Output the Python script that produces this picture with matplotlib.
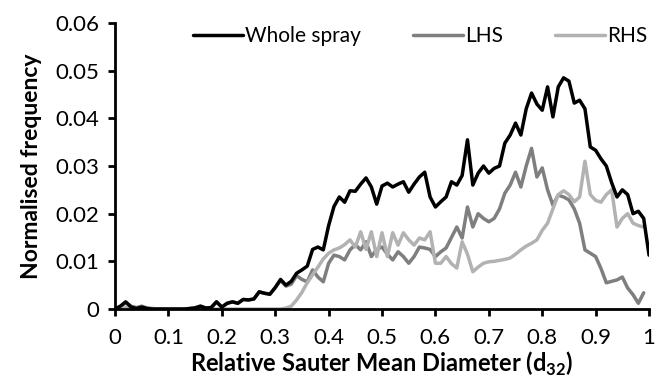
import numpy as np
from matplotlib import pyplot as plt

# relative d32 bins
d32 = np.round(np.arange(0, 1.001, 0.01), 2)

whole_spray = [
    0.0, 0.0006, 0.0015, 0.0004, 0.0001, 0.0004, 0.0001, 0.0, 0.0, 0.0,
    0.0, 0.0, 0.0, 0.0, 0.0001, 0.0002, 0.0006, 0.0002, 0.0003, 0.0015,
    0.0004, 0.0012, 0.0015, 0.0012, 0.002, 0.0019, 0.0021, 0.0036, 0.0033, 0.0031,
    0.0045, 0.0062, 0.0050, 0.0058, 0.0075, 0.0082, 0.009, 0.0125, 0.013, 0.0124,
    0.0175, 0.0215, 0.0235, 0.0224, 0.0248, 0.0247, 0.0262, 0.0275, 0.0256, 0.022,
    0.0258, 0.0264, 0.0256, 0.0262, 0.0267, 0.0245, 0.0262, 0.0277, 0.0287, 0.0235,
    0.0214, 0.0225, 0.0235, 0.0267, 0.026, 0.028, 0.0355, 0.026, 0.0285, 0.030,
    0.0285, 0.0295, 0.030, 0.0348, 0.0365, 0.039, 0.0365, 0.042, 0.0453, 0.043,
    0.0417, 0.0466, 0.0403, 0.0466, 0.0485, 0.0478, 0.0432, 0.0438, 0.042, 0.034,
    0.0333, 0.0315, 0.030, 0.0265, 0.0235, 0.025, 0.024, 0.020, 0.0205, 0.019,
    0.0113,
]

lhs = [
    0.0, 0.0004, 0.0014, 0.0006, 0.0003, 0.0006, 0.0002, 0.0001, 0.0, 0.0,
    0.0, 0.0, 0.0, 0.0, 0.0001, 0.0003, 0.0006, 0.0002, 0.0003, 0.0015,
    0.0004, 0.0012, 0.0015, 0.0012, 0.002, 0.0019, 0.0021, 0.0036, 0.0033, 0.0031,
    0.0045, 0.006, 0.0048, 0.0052, 0.007, 0.0062, 0.0057, 0.0082, 0.0067, 0.0057,
    0.0096, 0.0113, 0.011, 0.0103, 0.0124, 0.0135, 0.0124, 0.0141, 0.011, 0.0125,
    0.013, 0.0115, 0.0103, 0.012, 0.011, 0.0096, 0.011, 0.013, 0.0128, 0.0125,
    0.011, 0.012, 0.0128, 0.015, 0.0172, 0.0149, 0.0214, 0.0172, 0.020, 0.019,
    0.0183, 0.019, 0.021, 0.0243, 0.026, 0.0287, 0.0256, 0.030, 0.0337, 0.0277,
    0.0296, 0.025, 0.0218, 0.0239, 0.0235, 0.0229, 0.021, 0.018, 0.0124, 0.0117,
    0.011, 0.0085, 0.0055, 0.0058, 0.0061, 0.0067, 0.0044, 0.003, 0.0012, 0.0034,
    np.nan,
]

rhs = [
    0.0, 0.0001, 0.0004, 0.0001, 0.0, 0.0001, 0.0, 0.0, 0.0, 0.0,
    0.0, 0.0, 0.0, 0.0, 0.0, 0.0, 0.0, 0.0, 0.0, 0.0,
    0.0, 0.0, 0.0, 0.0, 0.0, 0.0, 0.0, 0.0, 0.0, 0.0,
    0.0, 0.0, 0.0002, 0.0006, 0.0019, 0.0035, 0.0055, 0.0072, 0.0088, 0.0105,
    0.0117, 0.0124, 0.0128, 0.0135, 0.0145, 0.013, 0.0162, 0.0125, 0.0162, 0.011,
    0.016, 0.011, 0.016, 0.0134, 0.016, 0.0145, 0.0134, 0.0149, 0.0145, 0.0162,
    0.0096, 0.0096, 0.011, 0.0095, 0.0086, 0.0141, 0.0115, 0.0078, 0.0088, 0.0096,
    0.0099, 0.0100, 0.0102, 0.0104, 0.0107, 0.0115, 0.0124, 0.0132, 0.0138, 0.0145,
    0.0165, 0.018, 0.021, 0.024, 0.0248, 0.024, 0.0225, 0.0235, 0.031, 0.024,
    0.0228, 0.0224, 0.024, 0.025, 0.0172, 0.019, 0.020, 0.018, 0.0175, 0.0172,
    np.nan,
]

x_ticks = [0, 0.1, 0.2, 0.3, 0.4, 0.5, 0.6, 0.7, 0.8, 0.9, 1]
x_tick_labels = ["0", "0.1", "0.2", "0.3", "0.4", "0.5", "0.6", "0.7", "0.8", "0.9", "1"]
y_ticks = [0, 0.01, 0.02, 0.03, 0.04, 0.05, 0.06]
y_tick_labels = ["0", "0.01", "0.02", "0.03", "0.04", "0.05", "0.06"]

plt.rcParams['font.family'] = ['Lato', 'DejaVu Sans']
plt.rcParams['mathtext.fontset'] = 'custom'
plt.rcParams['mathtext.rm'] = 'Lato'
plt.rcParams['mathtext.bf'] = 'Lato:bold'

fig = plt.figure(figsize=(6.55, 3.9), dpi=100)
ax = fig.add_axes([0.1756, 0.2077, 0.8153, 0.7333])

line_kw = dict(linewidth=2.5, solid_joinstyle="round", solid_capstyle="round")
ax.plot(d32, lhs, color="#7f7f7f", label="LHS", **line_kw)
ax.plot(d32, rhs, color="#b2b2b2", label="RHS", **line_kw)
ax.plot(d32, whole_spray, color="black", label="Whole spray", **line_kw)

ax.set_xlim(0, 1)
ax.set_ylim(0, 0.06)
ax.set_xticks(x_ticks)
ax.set_xticklabels(x_tick_labels)
ax.set_yticks(y_ticks)
ax.set_yticklabels(y_tick_labels)

for side in ["top", "right"]:
    ax.spines[side].set_visible(False)
for side in ["left", "bottom"]:
    ax.spines[side].set_linewidth(2)
ax.tick_params(direction="out", length=5, width=2, labelsize=16, pad=6)
ax.tick_params(axis="x", pad=9)

ax.set_xlabel(r"Relative Sauter Mean Diameter (d$_{\mathbf{32}}$)",
              fontsize=17, fontweight="bold", labelpad=1)
ax.set_ylabel("Normalised frequency", fontsize=16.5, fontweight="bold", labelpad=10)

handles, labels = ax.get_legend_handles_labels()
order = [2, 0, 1]
ax.legend([handles[i] for i in order], [labels[i] for i in order],
          loc="upper left", bbox_to_anchor=(0.282, 0.955), bbox_transform=fig.transFigure,
          ncol=3, frameon=False, fontsize=15, handlelength=2.4, handletextpad=0.1,
          columnspacing=2.5, borderaxespad=0)

fig.savefig("out.png", dpi=100)
